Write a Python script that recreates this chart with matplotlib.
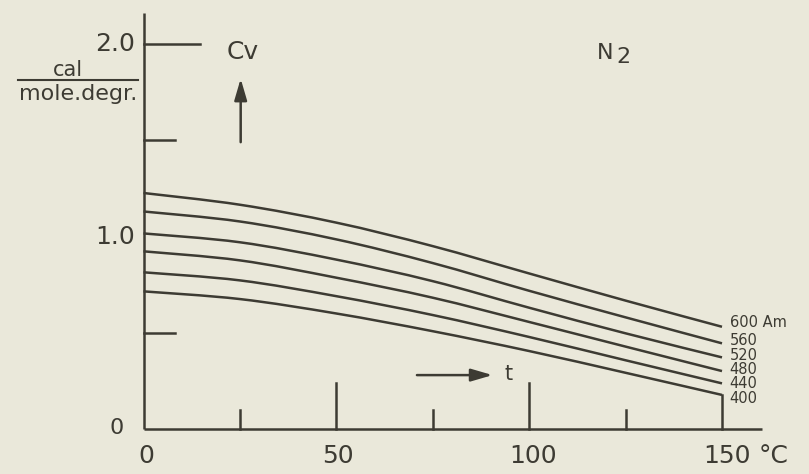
import matplotlib
matplotlib.use('Agg')
import matplotlib.pyplot as plt
from matplotlib.path import Path
from matplotlib.patches import PathPatch

matplotlib.rcParams.update({'font.family': ['DejaVu Sans']})

# temperature t in deg C
t = [0, 25, 50, 75, 100, 125, 150]
# Cv (cal/mole.degr.) for each pressure (Am)
pressures = ['600', '560', '520', '480', '440', '400']
cv600 = [1.226, 1.165, 1.072, 0.950, 0.808, 0.667, 0.531]
cv560 = [1.130, 1.078, 0.985, 0.862, 0.718, 0.580, 0.445]
cv520 = [1.016, 0.970, 0.880, 0.768, 0.630, 0.497, 0.372]
cv480 = [0.923, 0.876, 0.786, 0.682, 0.556, 0.428, 0.301]
cv440 = [0.814, 0.772, 0.690, 0.592, 0.478, 0.357, 0.237]
cv400 = [0.715, 0.675, 0.600, 0.508, 0.405, 0.292, 0.177]
curves = [cv600, cv560, cv520, cv480, cv440, cv400]

xticks_major = [50, 100]
xticks_minor = [25, 75, 125]
xlabels = ['0', '50', '100', '150']
yticks = [0.5, 1.5, 2.0]

bg = '#eae8da'
ink = '#3d3b33'
lw = 1.8


def smooth_path(x, y):
    # catmull-rom through the read points, drawn as bezier segments
    verts = [(x[0], y[0])]
    codes = [Path.MOVETO]
    n = len(x)
    for i in range(n - 1):
        x0, y0 = (x[i-1], y[i-1]) if i > 0 else (x[i], y[i])
        x3, y3 = (x[i+2], y[i+2]) if i + 2 < n else (x[i+1], y[i+1])
        c1 = (x[i] + (x[i+1] - x0) / 6.0, y[i] + (y[i+1] - y0) / 6.0)
        c2 = (x[i+1] - (x3 - x[i]) / 6.0, y[i+1] - (y3 - y[i]) / 6.0)
        verts += [c1, c2, (x[i+1], y[i+1])]
        codes += [Path.CURVE4] * 3
    return Path(verts, codes)


fig = plt.figure(figsize=(8.09, 4.74), dpi=100, facecolor=bg)
ax = fig.add_axes([143.5/809, 45/474, 578.5/809, 385/474])
ax.set_facecolor(bg)
ax.set_xlim(0, 150)
ax.set_ylim(0, 2.0)
ax.axis('off')

# axes lines
ax.plot([0, 0], [0, 2.16], color=ink, lw=lw, clip_on=False, solid_capstyle='butt')
ax.plot([0, 160.5], [0, 0], color=ink, lw=lw, clip_on=False, solid_capstyle='butt')

# inner ticks
for x in xticks_major:
    ax.plot([x, x], [0, 0.24], color=ink, lw=lw, clip_on=False)
for x in xticks_minor:
    ax.plot([x, x], [0, 0.10], color=ink, lw=lw, clip_on=False)
ax.plot([150, 150], [0, cv400[-1]], color=ink, lw=lw, clip_on=False)
for y in yticks:
    ln = 14.6 if y == 2.0 else 8.2
    ax.plot([0, ln], [y, y], color=ink, lw=lw, clip_on=False)

# curves
lab_y = [0.553, 0.458, 0.384, 0.309, 0.236, 0.160]
for p, cv, ly in zip(pressures, curves, lab_y):
    ax.add_patch(PathPatch(smooth_path(t, cv), facecolor='none', edgecolor=ink,
                           lw=lw, clip_on=False))
    lab = p + ' Am' if p == '600' else p
    ax.text(152.0, ly, lab, color=ink, fontsize=10.5, va='center', ha='left')

fs = 18
# y tick labels
ax.text(-2.2, 2.0, '2.0', color=ink, fontsize=fs, ha='right', va='center')
ax.text(-2.2, 1.0, '1.0', color=ink, fontsize=fs, ha='right', va='center')
ax.text(-6.9, 0.005, '0', color=ink, fontsize=16, ha='center', va='center')
# x tick labels
for x, s in zip([0.65, 50.4, 100.9, 151.2], xlabels):
    ax.text(x, -0.14, s, color=ink, fontsize=fs, ha='center', va='center')
ax.text(159.5, -0.14, '°C', color=ink, fontsize=fs, ha='left', va='center')

# unit label
ax.text(-19.5, 1.812, 'cal', color=ink, fontsize=15, ha='center', va='bottom')
ax.plot([-32.5, -1.5], [1.812, 1.812], color=ink, lw=1.5, clip_on=False)
ax.text(-17.0, 1.79, 'mole.degr.', color=ink, fontsize=16, ha='center', va='top')

# Cv arrow
ax.text(25.8, 1.96, 'Cv', color=ink, fontsize=18, ha='center', va='center')
ax.annotate('', xy=(25.2, 1.82), xytext=(25.2, 1.49),
            arrowprops=dict(arrowstyle='-|>,head_width=0.38,head_length=1.3', color=ink,
                            lw=lw, shrinkA=0, shrinkB=0))

# t arrow
ax.annotate('', xy=(90.5, 0.28), xytext=(70.9, 0.28),
            arrowprops=dict(arrowstyle='-|>,head_width=0.38,head_length=1.3', color=ink,
                            lw=lw, shrinkA=0, shrinkB=0))
ax.text(94.7, 0.285, 't', color=ink, fontsize=15, ha='center', va='center')

# N2
ax.text(117.5, 1.951, 'N', color=ink, fontsize=16, ha='left', va='center')
ax.text(122.7, 1.935, '2', color=ink, fontsize=16, ha='left', va='center')

fig.savefig('out.png', dpi=100, facecolor=bg)
